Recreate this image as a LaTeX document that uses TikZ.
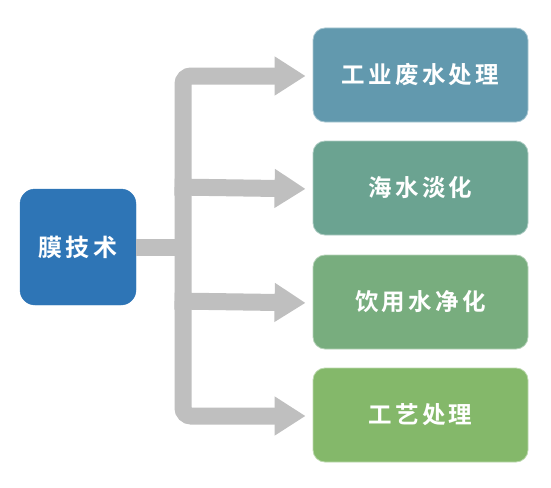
\documentclass[tikz,border=0pt]{standalone}
\usepackage{fontspec}
\newfontfamily\cjk[LetterSpace=14, BoldFont={* Bold}]{Noto Sans CJK SC}
\usetikzlibrary{arrows.meta}
\definecolor{cmain}{HTML}{2E75B6}
\definecolor{cone}{HTML}{6299AE}
\definecolor{ctwo}{HTML}{6BA391}
\definecolor{cthree}{HTML}{78AD7E}
\definecolor{cfour}{HTML}{84B86A}
\definecolor{cconn}{HTML}{BFBFBF}
\tikzset{
  box/.style={rounded corners=12pt, minimum width=215pt, minimum height=94pt, inner sep=0pt,
    text=white, font=\cjk\bfseries\fontsize{23.5}{27}\selectfont, line width=0.8pt},
  rootbox/.style={rounded corners=15pt, minimum width=116pt, minimum height=116pt, inner sep=0pt,
    fill=cmain, draw=cmain, text=white, font=\cjk\bfseries\fontsize{24}{28}\selectfont},
  conn/.style={draw=cconn, line width=17pt, rounded corners=8pt},
  connarrow/.style={conn, -{Triangle[length=31pt,width=37pt]}, shorten >=7pt},
}
\begin{document}
\begin{tikzpicture}[x=1pt,y=-1pt]
\useasboundingbox (0,0) rectangle (551,487);
\node[rootbox] (root) at (78,247) {膜技术};
\node[box, fill=cone, draw=cone!55!white] (b1) at (420.5,75) {工业废水处理};
\node[box, fill=ctwo, draw=ctwo!55!white] (b2) at (420.5,188) {海水淡化};
\node[box, fill=cthree, draw=cthree!55!white] (b3) at (420.5,302) {饮用水净化};
\node[box, fill=cfour, draw=cfour!55!white] (b4) at (420.5,415) {工艺处理};
\coordinate (j) at (183,247);
\draw[conn, rounded corners=0pt] (root.east) -- (j);
\draw[connarrow] (j) |- ([yshift=-1pt]b1.west);
\draw[connarrow] (j) |- ([yshift=-1pt]b4.west);
\draw[connarrow, rounded corners=0pt] (j |- b2.west) ++(-8.5,-1) -- ([yshift=-1pt]b2.west);
\draw[connarrow, rounded corners=0pt] (j |- b3.west) ++(-8.5,-1) -- ([yshift=-1pt]b3.west);
\end{tikzpicture}
\end{document}
